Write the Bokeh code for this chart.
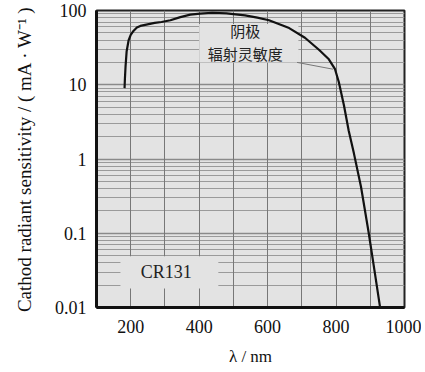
from bokeh.plotting import figure
from bokeh.models import FixedTicker, Grid, Label, BoxAnnotation, Range1d
from bokeh.embed import file_html
from bokeh.resources import INLINE

# --- data ---
wavelength_nm = [182, 183, 185, 188, 194, 200, 208, 218, 228, 249, 270, 290, 316, 345,
                 374, 403, 438, 480, 534, 570, 604, 663, 709, 750, 779, 797, 808, 823,
                 837, 852, 873, 895, 914, 929]
sensitivity = [9.0, 12, 18, 28, 40, 47, 53, 59, 62, 65, 68, 70, 74, 81.5,
               88, 91, 93, 91.5, 86, 80, 74, 58, 43, 29.6, 22, 16.2, 10.9, 5.3,
               2.4, 1.2, 0.42, 0.104, 0.028, 0.0098]

x_ticks = [200, 400, 600, 800, 1000]
x_grid = [200, 300, 400, 500, 600, 700, 800, 900]
y_ticks = [0.01, 0.1, 1, 10, 100]
y_tick_labels = {0.01: "0.01", 0.1: "0.1", 1: "1", 10: "10", 100: "100"}
y_minor = [k * 10.0 ** d for d in (-2, -1, 0, 1) for k in range(2, 10)]

curve_label = "阴极\n辐射灵敏度"
curve_label_pos = (535, 38)
leader_x = [686, 791]
leader_y = [20, 16.2]
label_box = dict(left=400, right=690, top=66, bottom=20)
model_label = "CR131"
model_label_pos = (304, 0.0297)
model_box = dict(left=170, right=456, top=0.049, bottom=0.018)

BG = "#e3e3e3"
SERIF = "Liberation Serif"

p = figure(width=421, height=368, y_axis_type="log",
           x_range=Range1d(100, 1000), y_range=Range1d(0.01, 100),
           output_backend="svg", toolbar_location=None,
           min_border_left=96, min_border_right=17,
           min_border_top=10, min_border_bottom=55)
p.background_fill_color = BG
p.border_fill_color = "white"
p.outline_line_color = "#222222"
p.outline_line_width = 2

# axes
p.xaxis.ticker = FixedTicker(ticks=x_ticks)
p.yaxis.ticker = FixedTicker(ticks=y_ticks, minor_ticks=y_minor)
p.yaxis.major_label_overrides = y_tick_labels
for ax in (p.xaxis[0], p.yaxis[0]):
    ax.major_tick_line_color = None
    ax.minor_tick_line_color = None
    ax.axis_line_color = "#111111"
    ax.axis_line_width = 3
    ax.major_label_text_font = SERIF
    ax.major_label_text_font_size = "18px"
    ax.major_label_text_color = "#111111"
    ax.axis_label_text_font = SERIF
    ax.axis_label_text_font_size = "17px"
    ax.axis_label_text_font_style = "normal"
    ax.axis_label_text_color = "#111111"
p.xaxis.major_label_standoff = 6
p.yaxis.major_label_standoff = 4
p.xaxis.axis_label = "λ / nm"
p.yaxis.axis_label = "Cathod radiant sensitivity / ( mA · W⁻¹ )"
p.yaxis.axis_label_text_font_size = "19px"
p.xaxis.axis_label_standoff = 11
p.yaxis.axis_label_standoff = 17

# grids
p.xgrid.grid_line_color = None
p.add_layout(Grid(dimension=0, ticker=FixedTicker(ticks=x_grid),
                  grid_line_color="#777777", grid_line_width=1))
p.ygrid.grid_line_color = "#8a8a8a"
p.ygrid.grid_line_width = 1.6
p.ygrid.minor_grid_line_color = "#9a9a9a"
p.ygrid.minor_grid_line_width = 1

# label backgrounds that hide the grid
p.add_layout(BoxAnnotation(**label_box, fill_color=BG, fill_alpha=1,
                           line_color=None, level="underlay"))
p.add_layout(BoxAnnotation(**model_box, fill_color=BG, fill_alpha=1,
                           line_color=None, level="underlay"))

# leader line
p.line(leader_x, leader_y, line_color="#777777", line_width=1)

# curve
p.line(wavelength_nm, sensitivity, line_color="#111111", line_width=2.2)

p.add_layout(Label(x=curve_label_pos[0], y=curve_label_pos[1], text=curve_label,
                   text_font="Noto Sans CJK SC", text_font_size="15px",
                   text_color="#222222", text_align="center", text_baseline="middle",
                   text_line_height=1.1))
p.add_layout(Label(x=model_label_pos[0], y=model_label_pos[1], text=model_label,
                   text_font=SERIF, text_font_size="18px",
                   text_color="#222222", text_align="center", text_baseline="middle"))

open("out.html", "w").write(file_html(p, INLINE))
